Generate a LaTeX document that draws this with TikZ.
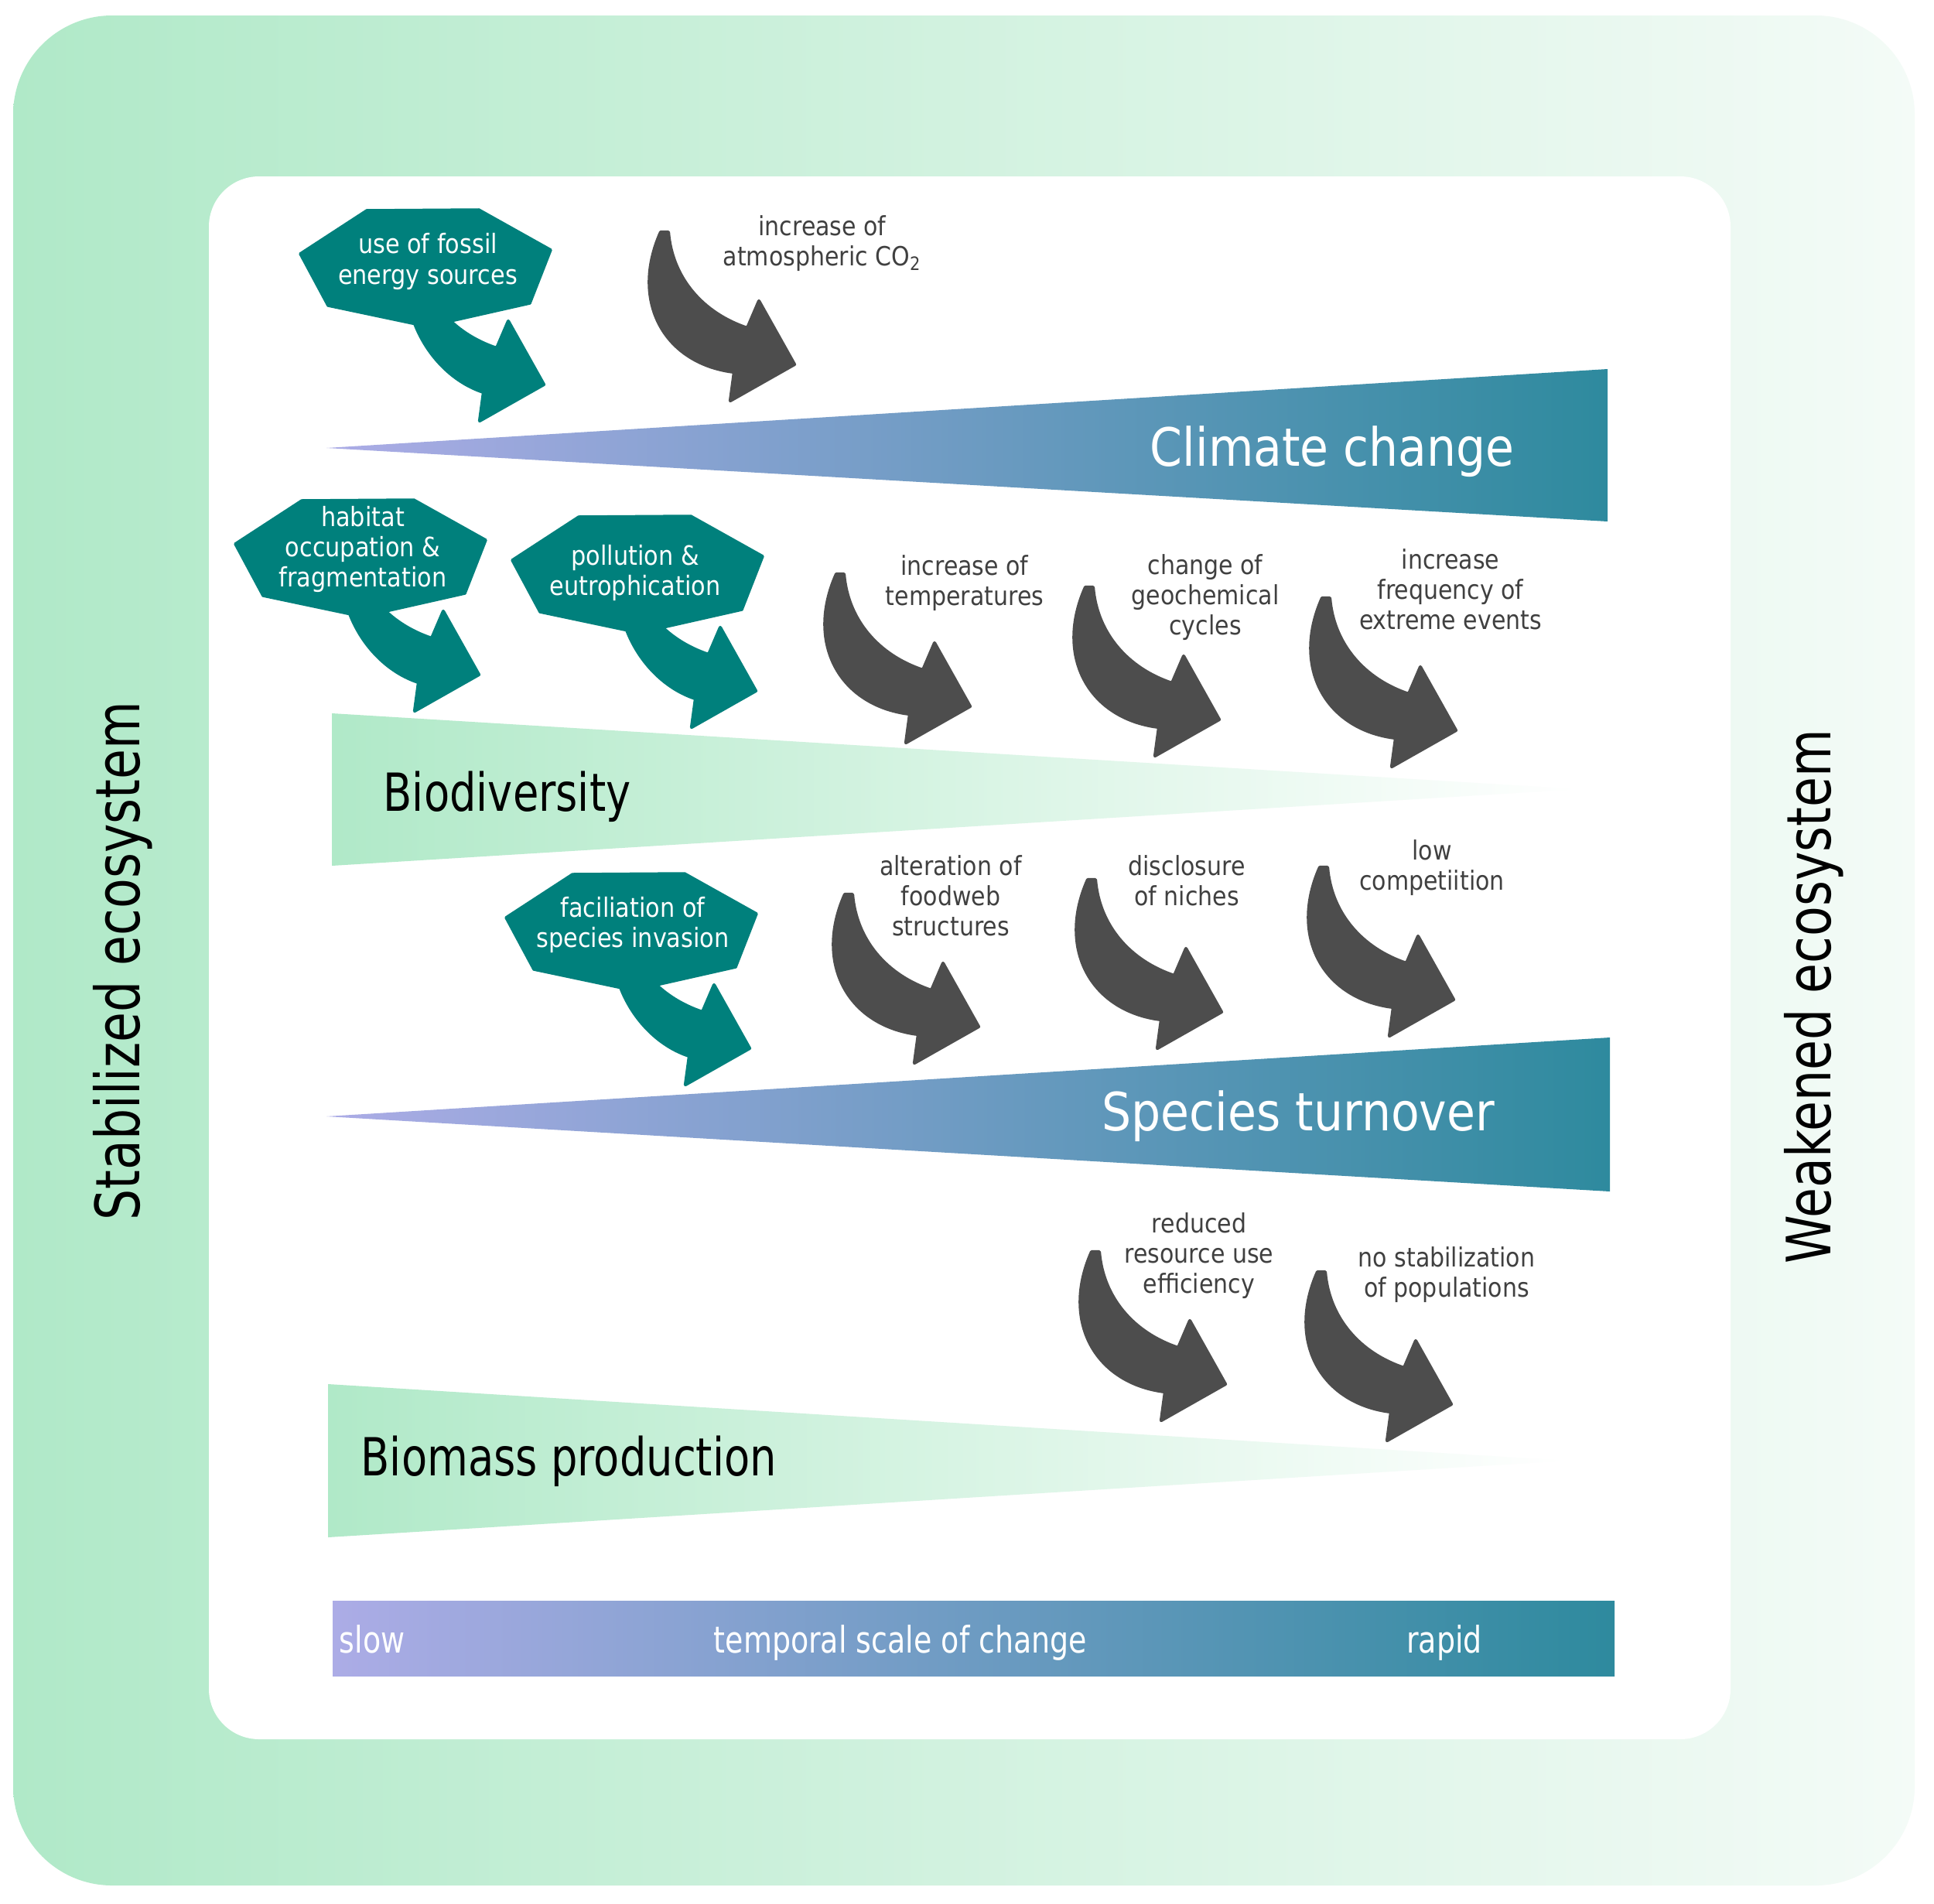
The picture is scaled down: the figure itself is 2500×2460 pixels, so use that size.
\documentclass[tikz,border=0pt]{standalone}
\usepackage{fontspec}
\setmainfont{DejaVu Sans}[FakeStretch=0.88]
\newfontfamily\narrowfont{DejaVu Sans}[FakeStretch=0.80]
\definecolor{tealbub}{HTML}{00807C}
\definecolor{darkarrow}{HTML}{4D4D4D}
\definecolor{labelgray}{HTML}{404040}
\definecolor{mint}{HTML}{B0E9C8}
\definecolor{mintpale}{HTML}{F4FBF7}
\definecolor{lav}{HTML}{ACACE6}
\definecolor{deepteal}{HTML}{2E8A9E}
\tikzset{
  pics/darrow/.style={code={
    \filldraw[fill=#1,draw=#1,line width=1.2pt,line join=round]
      (-5,0) .. controls (-45,90) and (0,170) .. (90,181) -- (85,218) -- (168,171)
      -- (122,89) -- (107,124) .. controls (50,105) and (10,60) .. (5,0) -- cycle;
  }},
  pics/bubble/.style={code={
    \filldraw[fill=tealbub,draw=tealbub,line width=1pt,line join=round]
      (-147,2) -- (-61,-54) -- (84,-55) -- (177,-3) -- (150,66) -- (17,96) -- (-111,69) -- cycle;
    \filldraw[fill=tealbub,draw=tealbub,line width=1.2pt,line join=round]
      (-5,0) .. controls (-25,80) and (25,160) .. (90,181) -- (85,218) -- (168,171)
      -- (122,89) -- (107,124) .. controls (50,105) and (10,60) .. (5,0) -- cycle;
  }},
  lbl/.style={font=\fontsize{9.7pt}{11.1pt}\selectfont, text=labelgray, align=center, inner sep=0pt},
  bublbl/.style={font=\fontsize{9.8pt}{11.1pt}\selectfont, text=white, align=center, inner sep=0pt},
  bigw/.style={font=\fontsize{19.4pt}{23pt}\selectfont, text=white, inner sep=0pt, anchor=base west},
  bigb/.style={font=\narrowfont\fontsize{19.3pt}{23pt}\selectfont, text=black, inner sep=0pt, anchor=base west},
  sidelbl/.style={font=\narrowfont\fontsize{22.5pt}{26pt}\selectfont, text=black, inner sep=0pt, rotate=90, anchor=base},
  barlbl/.style={font=\narrowfont\fontsize{13.5pt}{16pt}\selectfont, text=white, inner sep=0pt},
}
\begin{document}
\begin{tikzpicture}[x=0.01cm,y=-0.01cm]
\useasboundingbox (0,0) rectangle (2500,2460);
\fill[white] (0,0) rectangle (2500,2460);
% frames
\shade[left color=mint,right color=mintpale,rounded corners=1.28cm] (17,20) rectangle (2475,2437);
\fill[white,rounded corners=0.65cm] (270,228) rectangle (2237,2248);
% wedges
\shade[left color=lav,right color=deepteal] (422,579) -- (2078,477) -- (2078,674) -- cycle;
\shade[left color=mint,right color=white] (429,922) -- (2041,1020) -- (429,1119) -- cycle;
\shade[left color=lav,right color=deepteal] (422,1443) -- (2081,1341) -- (2081,1540) -- cycle;
\shade[left color=mint,right color=white] (424,1789) -- (2025,1888) -- (424,1987) -- cycle;
% bar
\shade[left color=lav,right color=deepteal] (430,2069) rectangle (2087,2166);
% big labels
\node[bigw] (cc) at (1486,602) {Climate change};
\node[bigb] (bd) at (495,1048) {Biodiversity};
\node[bigw] (st) at (1424,1461) {Species turnover};
\node[bigb] (bm) at (466,1907) {Biomass production};
% side labels
\node[sidelbl] (stab) at (180,1242) {Stabilized ecosystem};
\node[sidelbl] (weak) at (2366,1288) {Weakened ecosystem};
% bar labels
\node[barlbl,anchor=base west] (slow) at (438,2136) {slow};
\node[barlbl,anchor=base] (tsc) at (1164,2136) {temporal scale of change};
\node[barlbl,anchor=base] (rapid) at (1867,2136) {rapid};
% teal bubbles
\pic at (535,326) {bubble};
\pic at (451,701) {bubble};
\pic at (809,722) {bubble};
\pic at (801,1184) {bubble};
\node[bublbl] (fossil) at (553,338) {use of fossil\\energy sources};
\node[bublbl] (habitat) at (469,710) {habitat\\occupation \&\\fragmentation};
\node[bublbl] (pollution) at (821,740) {pollution \&\\eutrophication};
\node[bublbl] (invasion) at (818,1195) {faciliation of\\species invasion};
% dark arrows
\pic at (859,300) {darrow=darkarrow};
\pic at (1086,742) {darrow=darkarrow};
\pic at (1408,759) {darrow=darkarrow};
\pic at (1714,773) {darrow=darkarrow};
\pic at (1097,1156) {darrow=darkarrow};
\pic at (1411,1137) {darrow=darkarrow};
\pic at (1711,1121) {darrow=darkarrow};
\pic at (1416,1618) {darrow=darkarrow};
\pic at (1708,1644) {darrow=darkarrow};
% arrow labels
\node[lbl] (co2) at (1063,315) {increase of\\atmospheric CO\textsubscript{2}};
\node[lbl] (temp) at (1247,754) {increase of\\temperatures};
\node[lbl] (geo) at (1558,772) {change of\\geochemical\\cycles};
\node[lbl] (extreme) at (1875,762) {increase\\frequency of\\extreme events};
\node[lbl] (foodweb) at (1229,1158) {alteration of\\foodweb\\structures};
\node[lbl] (niches) at (1534,1138) {disclosure\\of niches};
\node[lbl] (compet) at (1851,1122) {low\\competiition};
\node[lbl] (resource) at (1550,1623) {reduced\\resource use\\efficiency};
\node[lbl] (popul) at (1870,1648) {no stabilization\\of populations};
\end{tikzpicture}
\end{document}
